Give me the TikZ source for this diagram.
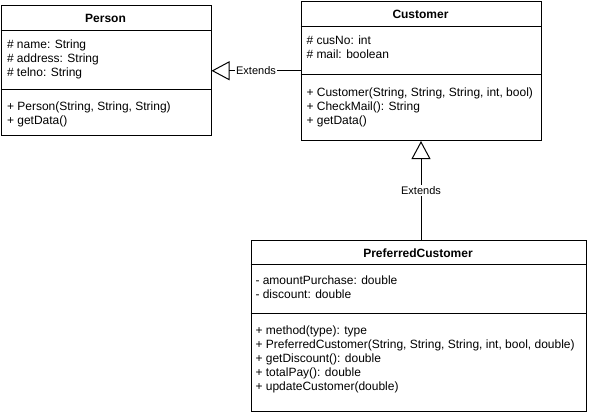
\documentclass[tikz,border=0pt]{standalone}
\usepackage{fontspec}
\setmainfont{Liberation Sans}
\usetikzlibrary{arrows.meta}
\begin{document}
\begin{tikzpicture}[x=1pt,y=-1pt, line width=1pt,
  box/.style={draw, rectangle, inner sep=0pt, anchor=north west},
  ttl/.style={font=\fontsize{12}{14}\selectfont\bfseries, anchor=base, inner sep=0pt},
  body/.style={font=\fontsize{12}{14}\selectfont, align=left, anchor=north west, inner sep=0pt},
  ext/.style={-{Triangle[open,length=18pt,width=19pt]}},
  lbl/.style={fill=white, font=\fontsize{11}{13}\selectfont, inner sep=1pt}]
\useasboundingbox (0,0) rectangle (591,413);
% Person
\node[box, minimum width=210pt, minimum height=130pt] (person) at (0.5,5) {};
\draw (0.5,30) -- (210.5,30);
\draw (0.5,89) -- (210.5,89);
\node[ttl] (persontitle) at (105.5,22.6) {Person};
\node[body] (personattr) at (6.5,37.8) {\strut\# name: String\\\# address: String\\\# telno: String};
\node[body] (personops) at (6.5,100) {\strut+ Person(String, String, String)\\+ getData()};
% Customer
\node[box, minimum width=240pt, minimum height=139.5pt] (customer) at (300.5,0.5) {};
\draw (300.5,26.5) -- (540.5,26.5);
\draw (300.5,74.5) -- (540.5,74.5);
\node[ttl] (custtitle) at (420.5,18.3) {Customer};
\node[body] (custattr) at (306,34.5) {\strut\# cusNo: int\\\# mail: boolean};
\node[body] (custops) at (306,86.2) {\strut+ Customer(String, String, String, int, bool)\\+ CheckMail(): String\\+ getData()};
% PreferredCustomer
\node[box, minimum width=335pt, minimum height=170.5pt] (pc) at (250.5,240) {};
\draw (250.5,264.5) -- (585.5,264.5);
\draw (250.5,313) -- (585.5,313);
\node[ttl] (pctitle) at (418,257.6) {PreferredCustomer};
\node[body] (pcattr) at (255,273.8) {\strut- amountPurchase: double\\- discount: double};
\node[body] (pcops) at (255,324.5) {\strut+ method(type): type\\+ PreferredCustomer(String, String, String, int, bool, double)\\+ getDiscount(): double\\+ totalPay(): double\\+ updateCustomer(double)};
% connectors
\draw[ext] (customer.west) -- (customer.west -| person.east) node[lbl, midway] (ext1) {Extends};
\draw[ext] (pc.north -| customer.south) -- (customer.south) node[lbl, midway] (ext2) {Extends};
\end{tikzpicture}
\end{document}
